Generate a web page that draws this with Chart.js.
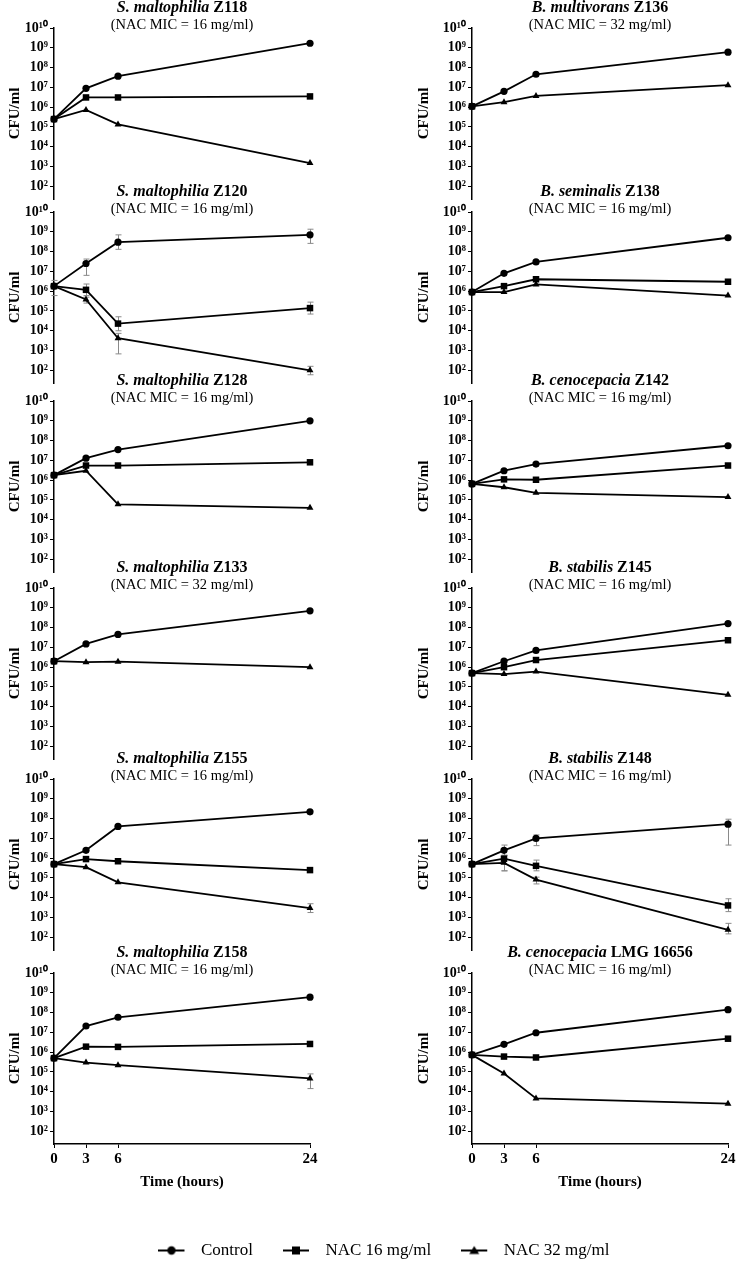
<!DOCTYPE html>
<html><head><meta charset="utf-8">
<script src="https://cdn.jsdelivr.net/npm/chart.js@4/dist/chart.umd.min.js"></script>
<style>
html,body{margin:0;padding:0;background:#fff;overflow:hidden;width:738px;height:1261px;position:relative}
canvas{position:absolute}
</style></head><body>
<script>
// ---------------- DATA ----------------
const times = [0, 3, 6, 24];
const xTickValues = [0, 3, 6, 24];
const yTickValues = [1e2, 1e3, 1e4, 1e5, 1e6, 1e7, 1e8, 1e9, 1e10];
const yTickLabels = ['10²', '10³', '10⁴', '10⁵', '10⁶', '10⁷', '10⁸', '10⁹', '10¹⁰'];
const seriesNames = ['Control', 'NAC 16 mg/ml', 'NAC 32 mg/ml'];
const species = ['S. maltophilia', 'S. maltophilia', 'S. maltophilia', 'S. maltophilia', 'S. maltophilia', 'S. maltophilia',
                 'B. multivorans', 'B. seminalis', 'B. cenocepacia', 'B. stabilis', 'B. stabilis', 'B. cenocepacia'];
const strains = ['Z118', 'Z120', 'Z128', 'Z133', 'Z155', 'Z158', 'Z136', 'Z138', 'Z142', 'Z145', 'Z148', 'LMG 16656'];
const micLabels = ['(NAC MIC = 16 mg/ml)', '(NAC MIC = 16 mg/ml)', '(NAC MIC = 16 mg/ml)', '(NAC MIC = 32 mg/ml)',
                   '(NAC MIC = 16 mg/ml)', '(NAC MIC = 16 mg/ml)', '(NAC MIC = 32 mg/ml)', '(NAC MIC = 16 mg/ml)',
                   '(NAC MIC = 16 mg/ml)', '(NAC MIC = 16 mg/ml)', '(NAC MIC = 16 mg/ml)', '(NAC MIC = 16 mg/ml)'];
const xTitle = 'Time (hours)';
const yTitle = 'CFU/ml';

const control = [
  [2.5e5, 9e6, 3.7e7, 1.7e9],
  [1.8e6, 2.5e7, 3e8, 7e8],
  [1.8e6, 1.3e7, 3.5e7, 1e9],
  [2e6, 1.5e7, 4.5e7, 7e8],
  [5e5, 2.5e6, 4e7, 2.2e8],
  [5e5, 2.1e7, 5.8e7, 6e8],
  [1.1e6, 6.3e6, 4.6e7, 6e8],
  [9e5, 8e6, 3e7, 5e8],
  [6.5e5, 3e6, 6.5e6, 5.5e7],
  [5e5, 2e6, 7e6, 1.6e8],
  [5e5, 2.5e6, 1e7, 5.2e7],
  [7.3e5, 2.5e6, 9.6e6, 1.4e8]
];
const nac16 = [
  [2.5e5, 3.1e6, 3.1e6, 3.5e6],
  [1.8e6, 1.17e6, 2.3e4, 1.4e5],
  [1.8e6, 5.5e6, 5.5e6, 8e6],
  [2e6, null, null, null],
  [5e5, 9e5, 7e5, 2.5e5],
  [5e5, 1.9e6, 1.85e6, 2.6e6],
  [1.1e6, null, null, null],
  [9e5, 1.8e6, 4e6, 3e6],
  [6.5e5, 1.1e6, 1.05e6, 5.5e6],
  [5e5, 1e6, 2.3e6, 2.3e7],
  [5e5, 9.4e5, 4.1e5, 4.1e3],
  [7.3e5, 6e5, 5.4e5, 4.8e6]
];
const nac32 = [
  [2.5e5, 7.2e5, 1.35e5, 1.5e3],
  [1.8e6, 3.8e5, 4.2e3, 1e2],
  [1.8e6, 3e6, 6e4, 4e4],
  [2e6, 1.8e6, 1.9e6, 1e6],
  [5e5, 3.5e5, 6e4, 3e3],
  [5e5, 3e5, 2.2e5, 4.7e4],
  [1.1e6, 1.8e6, 3.7e6, 1.3e7],
  [9e5, 9e5, 2.2e6, 6e5],
  [6.5e5, 4.4e5, 2.3e5, 1.4e5],
  [5e5, 4.5e5, 6e5, 4e4],
  [5e5, 5.8e5, 8.3e4, 2.4e2],
  [7.3e5, 8.3e4, 4.6e3, 2.5e3]
];
// [panel, series, time index, low, high]
const errorBars = [
  [1, 0, 0, 6e5, 3.5e6], [1, 0, 1, 6.3e6, 4.2e7], [1, 0, 2, 1.3e8, 7e8], [1, 0, 3, 2.6e8, 1.35e9],
  [1, 1, 1, 6e5, 2.3e6], [1, 1, 2, 1e4, 5.1e4], [1, 1, 3, 7e4, 2.8e5],
  [1, 2, 1, 2.5e5, 5e5], [1, 2, 2, 6.8e2, 7.4e3], [1, 2, 3, 60, 160],
  [4, 2, 3, 1.8e3, 5e3],
  [5, 2, 3, 1.45e4, 8e4],
  [10, 0, 1, 1.4e6, 4.6e6], [10, 0, 2, 4.3e6, 1.5e7], [10, 0, 3, 4.6e6, 9.3e7],
  [10, 1, 1, 2.3e5, 1.4e6], [10, 1, 2, 2.3e5, 8e5], [10, 1, 3, 2e3, 8.9e3],
  [10, 2, 1, 2.3e5, 9e5], [10, 2, 2, 5e4, 1.1e5], [10, 2, 3, 1.5e2, 5.1e2]
];

// ---------------- LAYOUT / STYLE ----------------
const FONT = '"Liberation Serif", "Times New Roman", serif';
const rowTops = [28, 212, 401, 588, 779, 973];
const colAxisX = [54, 472];
const yTitlePad = [16.5, 7];
const PAD_TOP = 32, PLOT_H = 171, PAD_BOT = 14, X_AXIS_H = 50, Y_AXIS_W = 64, PLOT_W = 256, PAD_R = 10;
const Y_MIN = 23;
const seriesStyles = [
  {pointStyle: 'circle', pointRadius: 3.6},
  {pointStyle: 'rect', pointRadius: 4.6},
  {pointStyle: 'triangle', pointRadius: 4}
];
const seriesData = [control, nac16, nac32];

const panelTitlePlugin = {
  id: 'panelTitle',
  afterDraw(chart, args, opts) {
    const {ctx, chartArea} = chart;
    const cx = (chartArea.left + chartArea.right) / 2;
    ctx.save();
    ctx.fillStyle = '#000';
    ctx.textBaseline = 'middle';
    ctx.textAlign = 'left';
    const f1 = 'italic bold 16px ' + FONT, f2 = 'bold 16px ' + FONT;
    ctx.font = f1; const w1 = ctx.measureText(opts.species + ' ').width;
    ctx.font = f2; const w2 = ctx.measureText(opts.strain).width;
    const x0 = cx - (w1 + w2) / 2, y0 = chartArea.top - 20;
    ctx.font = f1; ctx.fillText(opts.species + ' ', x0, y0);
    ctx.font = f2; ctx.fillText(opts.strain, x0 + w1, y0);
    ctx.font = '14.5px ' + FONT; ctx.textAlign = 'center';
    ctx.fillText(opts.sub, cx, chartArea.top - 2.5);
    ctx.restore();
  }
};

const errorBarPlugin = {
  id: 'errorBars',
  beforeDatasetsDraw(chart, args, opts) {
    const items = opts.items || [];
    if (!items.length) return;
    const {ctx} = chart, xs = chart.scales.x, ys = chart.scales.y;
    ctx.save();
    ctx.strokeStyle = '#8a8a8a';
    ctx.lineWidth = 1;
    for (const it of items) {
      const x = Math.round(xs.getPixelForValue(times[it[2]])) + 0.5;
      const y1 = ys.getPixelForValue(it[3]), y2 = ys.getPixelForValue(it[4]);
      ctx.beginPath();
      ctx.moveTo(x, y1); ctx.lineTo(x, y2);
      ctx.moveTo(x - 3, y1); ctx.lineTo(x + 3, y1);
      ctx.moveTo(x - 3, y2); ctx.lineTo(x + 3, y2);
      ctx.stroke();
    }
    ctx.restore();
  }
};

Chart.defaults.animation = false;

for (let p = 0; p < 12; p++) {
  const col = p < 6 ? 0 : 1, row = p % 6;
  const bottom = row === 5;
  const W = Y_AXIS_W + PLOT_W + PAD_R;
  const H = PAD_TOP + PLOT_H + (bottom ? X_AXIS_H : 0) + PAD_BOT;
  const cv = document.createElement('canvas');
  cv.width = W; cv.height = H;
  cv.style.width = W + 'px'; cv.style.height = H + 'px';
  cv.style.left = (colAxisX[col] - Y_AXIS_W) + 'px';
  cv.style.top = (rowTops[row] - PAD_TOP) + 'px';
  document.body.appendChild(cv);

  const datasets = seriesData.map((arr, s) => ({
    label: seriesNames[s],
    data: times.map((t, i) => arr[p][i] == null ? null : {x: t, y: arr[p][i]}).filter(d => d),
    borderColor: '#000', backgroundColor: '#000', borderWidth: 1.8,
    pointStyle: seriesStyles[s].pointStyle, pointRadius: seriesStyles[s].pointRadius,
    pointBorderWidth: 0, pointBackgroundColor: '#000', tension: 0, clip: false
  }));

  new Chart(cv, {
    type: 'line',
    data: {datasets},
    options: {
      responsive: false, devicePixelRatio: 1,
      layout: {padding: {top: PAD_TOP, bottom: PAD_BOT, left: 0, right: PAD_R}},
      plugins: {
        legend: {display: false}, tooltip: {enabled: false},
        panelTitle: {species: species[p], strain: strains[p], sub: micLabels[p]},
        errorBars: {items: errorBars.filter(e => e[0] === p)}
      },
      scales: {
        x: {
          type: 'linear', min: 0, max: 24, display: bottom,
          afterBuildTicks: s => { s.ticks = xTickValues.map(v => ({value: v})); },
          afterFit: s => { if (bottom) s.height = X_AXIS_H; },
          ticks: {font: {family: FONT, weight: 'bold', size: 15}, color: '#000', padding: 2, maxRotation: 0, autoSkip: false},
          grid: {drawOnChartArea: false, drawTicks: true, tickLength: 4, color: '#000', lineWidth: 1},
          border: {display: true, color: '#000', width: 1.5},
          title: {display: true, text: xTitle, color: '#000', font: {family: FONT, weight: 'bold', size: 15}, padding: {top: 0, bottom: 3}}
        },
        y: {
          type: 'logarithmic', min: Y_MIN, max: 1e10,
          afterBuildTicks: s => { s.ticks = yTickValues.map(v => ({value: v})); },
          afterFit: s => { s.width = Y_AXIS_W; },
          ticks: {callback: (v) => yTickLabels[yTickValues.indexOf(v)], font: {family: FONT, weight: 'bold', size: 14}, color: '#000', padding: 2, autoSkip: false, maxRotation: 0},
          grid: {drawOnChartArea: false, drawTicks: true, tickLength: 4, color: '#000', lineWidth: 1},
          border: {display: true, color: '#000', width: 1.5},
          title: {display: true, text: yTitle, color: '#000', font: {family: FONT, weight: 'bold', size: 15}, padding: {top: yTitlePad[col], bottom: 0}}
        }
      }
    },
    plugins: [panelTitlePlugin, errorBarPlugin]
  });
}

// ---------------- LEGEND ----------------
function makeLegendImage(style) {
  const c = document.createElement('canvas');
  c.width = 34; c.height = 12;
  const g = c.getContext('2d');
  g.fillStyle = '#000'; g.strokeStyle = '#000'; g.lineWidth = 2;
  g.beginPath(); g.moveTo(0, 6); g.lineTo(26, 6); g.stroke();
  g.beginPath();
  if (style === 'circle') { g.arc(13, 6, 4.2, 0, Math.PI * 2); }
  else if (style === 'rect') { g.rect(9, 2, 8, 8); }
  else { g.moveTo(13, 1.5); g.lineTo(18, 9.5); g.lineTo(8, 9.5); g.closePath(); }
  g.fill();
  return c;
}
const legendImages = seriesStyles.map(s => makeLegendImage(s.pointStyle));
const lc = document.createElement('canvas');
lc.width = 708; lc.height = 160;
lc.style.width = '708px'; lc.style.height = '160px';
lc.style.left = '30px'; lc.style.top = '1212px';
document.body.appendChild(lc);
new Chart(lc, {
  type: 'line',
  data: {datasets: seriesNames.map(n => ({label: n, data: []}))},
  options: {
    responsive: false, devicePixelRatio: 1,
    layout: {padding: 0},
    scales: {x: {display: false}, y: {display: false}},
    plugins: {
      tooltip: {enabled: false},
      legend: {
        display: true, position: 'top',
        labels: {
          usePointStyle: true, pointStyleWidth: 34, padding: 30, color: '#000',
          font: {family: FONT, size: 17},
          generateLabels: () => seriesNames.map((n, i) => ({
            text: n, pointStyle: legendImages[i], fillStyle: '#000', strokeStyle: '#000', lineWidth: 0, hidden: false, datasetIndex: i
          }))
        }
      }
    }
  }
});
</script>
</body></html>
